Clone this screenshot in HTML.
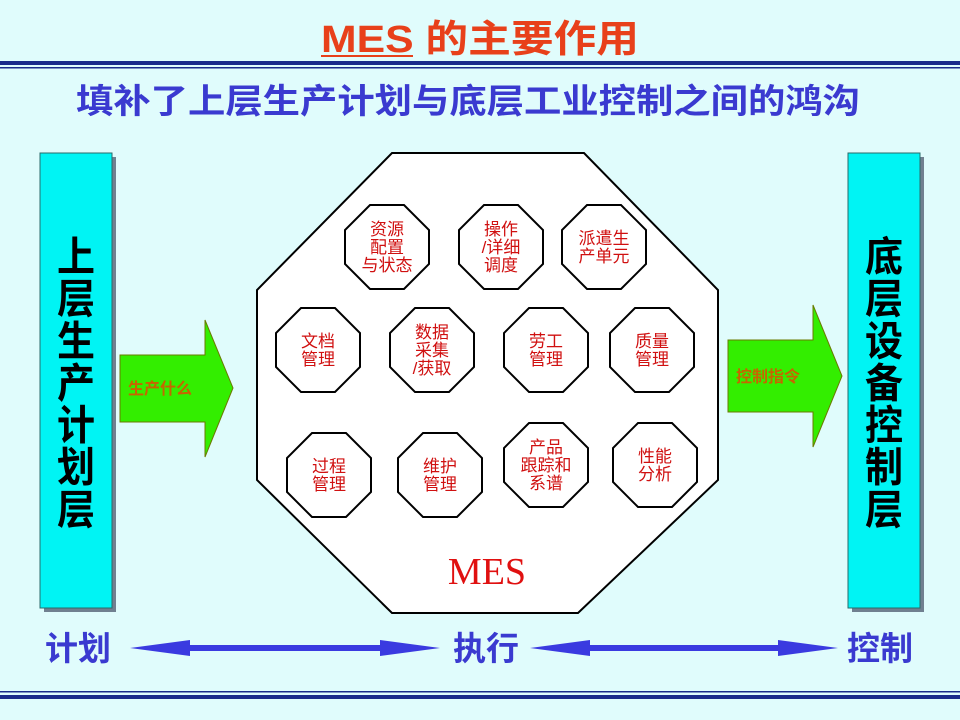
<!DOCTYPE html>
<html><head><meta charset="utf-8"><style>
html,body{margin:0;padding:0;}
body{width:960px;height:720px;background:#e0fcfc;overflow:hidden;}
</style></head><body>
<svg width="960" height="720" xmlns="http://www.w3.org/2000/svg" style="display:block">
<defs><style>
.cjk{font-family:"Liberation Sans","Noto Sans CJK SC","WenQuanYi Zen Hei",sans-serif;font-weight:bold;}
.s{fill:#d01010;font-size:17px;font-family:"Liberation Sans","Noto Sans CJK SC",sans-serif;text-anchor:middle;}
</style></defs>
<rect width="960" height="720" fill="#e0fcfc"/>
<text x="321" y="52" class="cjk" font-size="38" fill="#e8401a" textLength="318" lengthAdjust="spacingAndGlyphs">MES 的主要作用</text>
<line x1="321" y1="56" x2="413" y2="56" stroke="#e8401a" stroke-width="2"/>
<rect x="0" y="61" width="960" height="4" fill="#1a2a8a"/>
<rect x="0" y="67" width="960" height="1.5" fill="#1a2a8a"/>
<text x="76" y="113" class="cjk" font-size="34" fill="#3a3ad0" textLength="784" lengthAdjust="spacingAndGlyphs">填补了上层生产计划与底层工业控制之间的鸿沟</text>
<rect x="44" y="157" width="72" height="455" fill="#708090"/>
<rect x="40" y="153" width="72" height="455" fill="#00f4f4" stroke="#2a6a6a" stroke-width="1"/>
<g transform="translate(76,0) scale(1,1.08)">
<text class="cjk" font-size="38" fill="#000" text-anchor="middle">
<tspan x="0" y="251">上</tspan><tspan x="0" y="290">层</tspan><tspan x="0" y="329">生</tspan><tspan x="0" y="368">产</tspan><tspan x="0" y="407">计</tspan><tspan x="0" y="446">划</tspan><tspan x="0" y="485">层</tspan></text></g>
<rect x="852" y="157" width="72" height="455" fill="#708090"/>
<rect x="848" y="153" width="72" height="455" fill="#00f4f4" stroke="#2a6a6a" stroke-width="1"/>
<g transform="translate(884,0) scale(1,1.08)">
<text class="cjk" font-size="38" fill="#000" text-anchor="middle">
<tspan x="0" y="251">底</tspan><tspan x="0" y="290">层</tspan><tspan x="0" y="329">设</tspan><tspan x="0" y="368">备</tspan><tspan x="0" y="407">控</tspan><tspan x="0" y="446">制</tspan><tspan x="0" y="485">层</tspan></text></g>
<polygon points="392,153 584,153 718,290 718,480 578,613 392,613 257,480 257,290" fill="#fff" stroke="#000" stroke-width="2"/>
<polygon points="120,355 205,355 205,320 233,388 205,457 205,422 120,422" fill="#33ee00" stroke="#6a7a00" stroke-width="1"/>
<text x="128" y="394" class="cjk" font-size="16" fill="#c86400">生产什么</text>
<polygon points="728,340 813,340 813,305 842,376 813,447 813,412 728,412" fill="#33ee00" stroke="#6a7a00" stroke-width="1"/>
<text x="736" y="382" class="cjk" font-size="16" fill="#c86400">控制指令</text>
<g fill="#fff" stroke="#000" stroke-width="2">
<polygon points="-17,-42 17,-42 42,-17 42,17 17,42 -17,42 -42,17 -42,-17" transform="translate(387,247)"/>
<polygon points="-17,-42 17,-42 42,-17 42,17 17,42 -17,42 -42,17 -42,-17" transform="translate(501,247)"/>
<polygon points="-17,-42 17,-42 42,-17 42,17 17,42 -17,42 -42,17 -42,-17" transform="translate(604,247)"/>
<polygon points="-17,-42 17,-42 42,-17 42,17 17,42 -17,42 -42,17 -42,-17" transform="translate(318,350)"/>
<polygon points="-17,-42 17,-42 42,-17 42,17 17,42 -17,42 -42,17 -42,-17" transform="translate(432,350)"/>
<polygon points="-17,-42 17,-42 42,-17 42,17 17,42 -17,42 -42,17 -42,-17" transform="translate(546,350)"/>
<polygon points="-17,-42 17,-42 42,-17 42,17 17,42 -17,42 -42,17 -42,-17" transform="translate(652,350)"/>
<polygon points="-17,-42 17,-42 42,-17 42,17 17,42 -17,42 -42,17 -42,-17" transform="translate(329,475)"/>
<polygon points="-17,-42 17,-42 42,-17 42,17 17,42 -17,42 -42,17 -42,-17" transform="translate(440,475)"/>
<polygon points="-17,-42 17,-42 42,-17 42,17 17,42 -17,42 -42,17 -42,-17" transform="translate(546,465)"/>
<polygon points="-17,-42 17,-42 42,-17 42,17 17,42 -17,42 -42,17 -42,-17" transform="translate(655,465)"/>
</g>
<text class="s"><tspan x="387" y="235">资源</tspan><tspan x="387" y="253">配置</tspan><tspan x="387" y="271">与状态</tspan></text>
<text class="s"><tspan x="501" y="235">操作</tspan><tspan x="501" y="253">/详细</tspan><tspan x="501" y="271">调度</tspan></text>
<text class="s"><tspan x="604" y="244">派遣生</tspan><tspan x="604" y="262">产单元</tspan></text>
<text class="s"><tspan x="318" y="347">文档</tspan><tspan x="318" y="365">管理</tspan></text>
<text class="s"><tspan x="432" y="338">数据</tspan><tspan x="432" y="356">采集</tspan><tspan x="432" y="374">/获取</tspan></text>
<text class="s"><tspan x="546" y="347">劳工</tspan><tspan x="546" y="365">管理</tspan></text>
<text class="s"><tspan x="652" y="347">质量</tspan><tspan x="652" y="365">管理</tspan></text>
<text class="s"><tspan x="329" y="472">过程</tspan><tspan x="329" y="490">管理</tspan></text>
<text class="s"><tspan x="440" y="472">维护</tspan><tspan x="440" y="490">管理</tspan></text>
<text class="s"><tspan x="546" y="453">产品</tspan><tspan x="546" y="471">跟踪和</tspan><tspan x="546" y="489">系谱</tspan></text>
<text class="s"><tspan x="655" y="462">性能</tspan><tspan x="655" y="480">分析</tspan></text>
<text x="487" y="584" font-family="Liberation Serif,serif" font-size="38" fill="#e01010" text-anchor="middle">MES</text>
<text x="78" y="660" class="cjk" font-size="33" fill="#3a3ad0" text-anchor="middle">计划</text>
<text x="486" y="660" class="cjk" font-size="33" fill="#3a3ad0" text-anchor="middle">执行</text>
<text x="880" y="660" class="cjk" font-size="33" fill="#3a3ad0" text-anchor="middle">控制</text>
<polygon points="130,648 190,640 190,645 380,645 380,640 440,648 380,656 380,651 190,651 190,656" fill="#3a3ae0"/>
<polygon points="530,648 590,640 590,645 778,645 778,640 838,648 778,656 778,651 590,651 590,656" fill="#3a3ae0"/>
<rect x="0" y="691" width="960" height="1.5" fill="#1a2a8a"/>
<rect x="0" y="695" width="960" height="4" fill="#1a2a8a"/>
</svg>
</body></html>
